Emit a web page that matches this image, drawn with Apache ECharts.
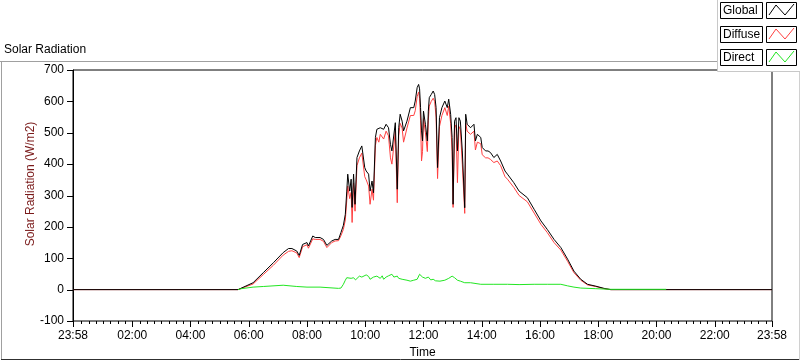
<!DOCTYPE html>
<html><head><meta charset="utf-8">
<script src="https://cdn.jsdelivr.net/npm/echarts@6/dist/echarts.min.js"></script>
<style>html,body{margin:0;padding:0;background:#fff}#c{width:800px;height:361px}</style>
</head><body><div id="c"></div>
<script>
// time in minutes from midnight (-2 = 23:58 of previous day)
const timeMin = [-2,338,369,390,411,431,442,449,459,464,471,480,483,492,497,507,514,521,531,538,545,550,555,559,562,564,568,571,573,576,579,583,588,593,597,599,602,607,610,614,617,621,624,628,631,638,643,648,652,655,662,666,669,672,676,679,686,693,700,703,707,710,712,714,716,718,720,724,728,730,732,736,740,743,746,749,753,758,764,769,772,776,779,781,784,787,790,793,796,800,805,807,810,817,824,827,831,838,841,848,853,858,865,872,879,888,893,906,917,934,948,962,975,989,1003,1017,1030,1044,1058,1075,1092,1106,1438];
const globalW = [0,0,22,54,86,118,131,131,123,109,144,150,139,171,166,166,160,141,155,160,160,182,205,240,314,368,314,352,262,368,272,421,442,458,463,389,378,368,314,346,309,485,511,506,516,511,527,516,463,442,532,320,516,559,537,506,537,580,580,601,644,654,640,580,506,474,569,527,474,569,612,622,633,622,580,389,548,580,601,580,607,559,485,272,537,548,442,548,537,442,261,559,527,516,527,474,495,485,453,442,442,437,421,431,410,378,368,341,314,293,256,219,192,160,134,97,59,33,17,11,4,0,0];
const diffuseW = [0,0,18,48,78,110,122,124,117,102,137,143,132,162,160,160,154,134,150,155,156,172,192,222,285,330,290,310,214,340,250,395,420,435,440,360,350,330,272,320,285,460,485,470,495,480,505,490,420,400,505,277,490,530,515,470,515,555,555,570,615,630,610,540,410,440,545,500,440,540,585,600,610,600,550,354,520,555,580,555,585,530,440,262,515,525,341,520,510,400,243,530,505,495,505,445,470,465,430,420,420,415,405,410,395,360,352,326,300,280,244,208,182,150,126,90,54,30,15,10,3,0,0];
const directTime = [338,345,369,390,431,459,480,507,545,550,555,559,562,566,571,576,580,583,588,593,597,602,607,610,614,617,621,624,628,631,635,638,643,648,652,655,659,662,666,669,672,676,679,686,693,700,707,712,714,718,720,724,730,735,740,745,749,754,758,764,768,772,776,779,784,790,796,805,817,838,865,893,917,948,975,1003,1017,1030,1044,1075,1106,1220];
const directW = [0,3,8,10,14,10,8,8,4,5,17,30,38,33,36,38,31,35,43,40,46,47,42,33,38,40,34,43,37,36,44,33,40,44,38,49,40,40,43,36,38,33,36,30,27,30,33,49,54,40,38,36,40,31,33,28,30,27,27,30,25,36,38,43,38,30,27,22,22,17,17,17,16,17,17,17,12,8,5,3,1,1];
const majorTicks = [-2,120,240,360,480,600,720,840,960,1080,1200,1320,1438];
const minorTicks = [];
for (let m = 15; m < 1438; m += 15) if (m % 120 !== 0) minorTicks.push(m);
const yMin = -100, yMax = 700, yStep = 100;
const seriesNames = ['Global','Diffuse','Direct'];
const seriesColors = ['#000000','#ff4040','#22e622'];

const FONT = 'Liberation Sans';
function fmt(v){
  if (v < 0 || v >= 1438) return '23:58';
  const h = Math.floor(v/60), m = v%60;
  return String(h).padStart(2,'0') + ':' + String(m).padStart(2,'0');
}
const pair = (t, v) => t.map((x,i)=>[x, v[i]]);

const baseGraphics = [
  {type:'line', z:40, shape:{x1:0,y1:61.5,x2:718,y2:61.5}, style:{stroke:'#a0a0a0', lineWidth:1}},
  {type:'line', z:40, shape:{x1:1.5,y1:61,x2:1.5,y2:360}, style:{stroke:'#a0a0a0', lineWidth:1}},
  {type:'line', z:40, shape:{x1:1,y1:359.5,x2:800,y2:359.5}, style:{stroke:'#303030', lineWidth:1}},
  {type:'line', z:40, shape:{x1:799.5,y1:72,x2:799.5,y2:360}, style:{stroke:'#d0d0d0', lineWidth:1}},
  {type:'text', z:40, x:4, y:50, style:{text:'Solar Radiation', font:'12px "'+FONT+'"', fill:'#000', verticalAlign:'middle'}},
  {type:'text', z:40, x:31, y:184, rotation:Math.PI/2, style:{text:'Solar Radiation (W/m2)', font:'12px "'+FONT+'"', fill:'#7a1a1a', align:'center', verticalAlign:'middle'}}
];
baseGraphics.push({type:'rect', z:50, shape:{x:717.5,y:-0.5,width:83,height:72}, style:{fill:'#fff', stroke:'#c8c8c8', lineWidth:1}});
seriesNames.forEach((n,i)=>{
  const y0 = [2.5,26.5,49.5][i];
  baseGraphics.push({type:'rect', z:51, shape:{x:720.5,y:y0,width:42,height:16}, style:{fill:'#fff', stroke:'#000', lineWidth:1}});
  baseGraphics.push({type:'text', z:52, x:723, y:y0+8.5, style:{text:n, font:'12px "'+FONT+'"', fill:'#000', verticalAlign:'middle', align:'left'}});
  baseGraphics.push({type:'rect', z:51, shape:{x:766.5,y:y0,width:30,height:16}, style:{fill:'#fff', stroke:'#000', lineWidth:1}});
  baseGraphics.push({type:'polyline', z:52, shape:{points:[[769,y0+12.5],[776,y0+2.5],[785,y0+12.5],[794,y0+1.5]]}, style:{stroke:seriesColors[i], fill:null, lineWidth:1}});
});

const chart = echarts.init(document.getElementById('c'));
chart.setOption({
  animation:false,
  backgroundColor:'#fff',
  textStyle:{fontFamily:FONT},
  grid:{left:73, right:28, top:70, height:251, show:true, borderColor:'#000', borderWidth:1, backgroundColor:'#fff', containLabel:false, outerBoundsMode:'none'},
  xAxis:{
    type:'value', min:-2, max:1438, position:'bottom',
    name:'Time', nameLocation:'middle', nameGap:25,
    nameTextStyle:{color:'#000', fontSize:12, fontFamily:FONT},
    axisLine:{show:true, onZero:false, lineStyle:{color:'#777'}},
    axisTick:{show:false},
    axisLabel:{customValues:majorTicks, formatter:fmt, color:'#000', fontSize:12, margin:9, fontFamily:FONT},
    splitLine:{show:false}
  },
  yAxis:{
    type:'value', min:yMin, max:yMax, interval:yStep,
    axisLine:{show:true, onZero:false, lineStyle:{color:'#000'}},
    axisTick:{show:false},
    axisLabel:{color:'#000', fontSize:12, margin:9, fontFamily:FONT},
    splitLine:{show:false}
  },
  graphic: baseGraphics,
  series:[
    {name:'Diffuse', type:'line', data:pair(timeMin, diffuseW), showSymbol:false, lineStyle:{color:seriesColors[1], width:1}, z:2},
    {name:'Global', type:'line', data:pair(timeMin, globalW), showSymbol:false, lineStyle:{color:seriesColors[0], width:1}, z:3},
    {name:'Direct', type:'line', data:pair(directTime, directW), showSymbol:false, lineStyle:{color:seriesColors[2], width:1}, z:4}
  ]
});

// axis tick marks, positioned through the chart's own scales
const tickGraphics = [];
const yBottom = chart.convertToPixel({yAxisIndex:0}, yMin);
const xLeft = chart.convertToPixel({xAxisIndex:0}, -2);
function xTick(v, len){
  const x = Math.round(chart.convertToPixel({xAxisIndex:0}, v)) + 0.5;
  tickGraphics.push({type:'line', z:45, shape:{x1:x, y1:yBottom, x2:x, y2:yBottom+len}, style:{stroke:'#000', lineWidth:1}});
}
majorTicks.forEach(v=>xTick(v, 6));
minorTicks.forEach(v=>xTick(v, 3));
for (let v = yMin; v <= yMax; v += yStep){
  const y = Math.round(chart.convertToPixel({yAxisIndex:0}, v)) + 0.5;
  tickGraphics.push({type:'line', z:45, shape:{x1:xLeft-6, y1:y, x2:xLeft, y2:y}, style:{stroke:'#000', lineWidth:1}});
}
chart.setOption({graphic: baseGraphics.concat(tickGraphics)});
</script></body></html>
